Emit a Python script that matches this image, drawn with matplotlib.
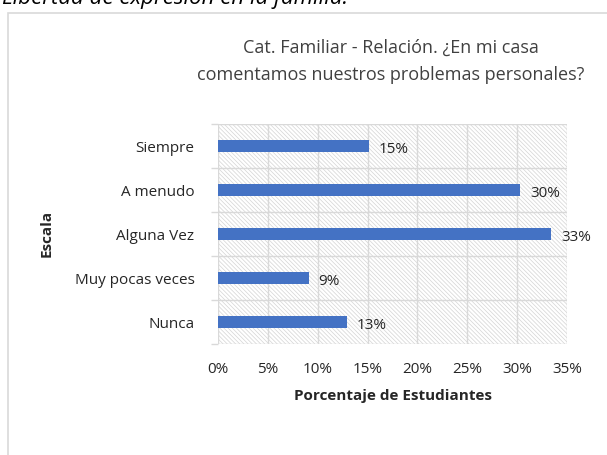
import matplotlib
matplotlib.use("Agg")
import matplotlib.pyplot as plt
from matplotlib.patches import Rectangle
import matplotlib as mpl

plt.rcParams['font.family'] = ['Open Sans', 'DejaVu Sans']
mpl.rcParams['hatch.color'] = '#d4d4d4'
mpl.rcParams['hatch.linewidth'] = 0.5

categories = ["Siempre", "A menudo", "Alguna Vez", "Muy pocas veces", "Nunca"]
values = [15.1, 30.3, 33.4, 9.1, 12.9]
labels = ["15%", "30%", "33%", "9%", "13%"]
xticks = [0, 5, 10, 15, 20, 25, 30, 35]
xticklabels = ["0%", "5%", "10%", "15%", "20%", "25%", "30%", "35%"]

W, H = 607, 456
fig = plt.figure(figsize=(W/100, H/100), dpi=100)
fig.patch.set_facecolor('white')

# outer chart border
fig.patches.append(Rectangle((8/W, -0.05), 1.0, (H-14)/H + 0.05, transform=fig.transFigure,
                             fill=False, edgecolor='#d9d9d9', linewidth=1.2))

# cut-off caption at top
fig.text(2/W, 1 + 2/H, "Libertad de expresión en la familia.", fontsize=16, style='italic',
         ha='left', va='center', color='black')

ax = fig.add_axes([218/W, 1-345/H, (567-218)/W, (345-125)/H])
ax.set_xlim(0, 35)
n = len(categories)
ax.set_ylim(n - 0.5, -0.5)

# hatched background
ax.add_patch(Rectangle((0, 0), 1, 1, transform=ax.transAxes, facecolor='white',
                       hatch='\\' * 8, edgecolor='#d4d4d4', linewidth=0, zorder=0))

for x in xticks:
    ax.axvline(x, color='#d9d9d9', linewidth=1.0, zorder=1)
for b in [i + 0.5 for i in range(-1, n)]:
    ax.axhline(b, color='#d9d9d9', linewidth=1.0, zorder=1)

ypos = list(range(n))
ax.barh(ypos, values, height=0.28, color='#4472c4', zorder=3)
for y, v, t in zip(ypos, values, labels):
    ax.text(v + 1.0, y + 0.05, t, va='center', ha='left', fontsize=11, color='#262626', zorder=4)

for s in ax.spines.values():
    s.set_visible(False)
ax.set_xticks(xticks)
ax.set_xticklabels(xticklabels, fontsize=11, color='#262626')
ax.set_yticks(ypos)
ax.set_yticklabels(categories, fontsize=11, color='#262626')
ax.tick_params(axis='x', length=0, pad=12)
ax.tick_params(axis='y', length=0, pad=17)
# left tick marks at boundaries
ax.set_yticks([i + 0.5 for i in range(-1, n)], minor=True)
ax.tick_params(axis='y', which='minor', length=5, color='#d9d9d9', width=1)

ax.set_xlabel("Porcentaje de Estudiantes", fontsize=11, fontweight='bold', color='#262626', labelpad=9)
fig.text(47/W, 1-233/H, "Escala", rotation=90, fontsize=11, fontweight='bold',
         color='#262626', ha='center', va='center')

fig.text(391/W, 1-48/H, "Cat. Familiar - Relación. ¿En mi casa", fontsize=13,
         color='#404040', ha='center', va='center')
fig.text(391/W, 1-75/H, "comentamos nuestros problemas personales?", fontsize=13,
         color='#404040', ha='center', va='center')

fig.savefig("out.png", dpi=100)
